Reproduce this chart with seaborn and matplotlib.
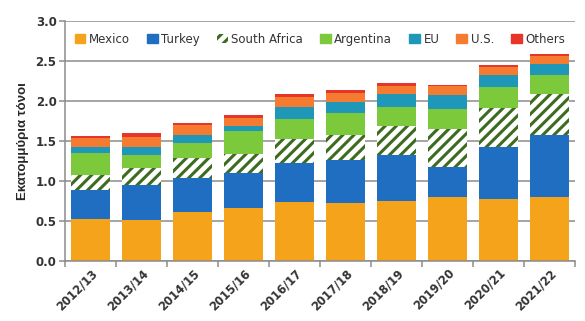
import matplotlib
matplotlib.use("Agg")
import matplotlib.pyplot as plt
from matplotlib.patches import Patch
from matplotlib.ticker import FixedLocator
import numpy as np
import pandas as pd
import seaborn as sns

years = ["2012/13", "2013/14", "2014/15", "2015/16", "2016/17",
         "2017/18", "2018/19", "2019/20", "2020/21", "2021/22"]
mexico = [0.52, 0.51, 0.61, 0.66, 0.74, 0.72, 0.75, 0.80, 0.78, 0.80]
turkey = [0.37, 0.435, 0.43, 0.435, 0.48, 0.54, 0.58, 0.38, 0.64, 0.775]
south_africa = [0.18, 0.215, 0.25, 0.245, 0.31, 0.315, 0.36, 0.47, 0.49, 0.515]
argentina = [0.28, 0.16, 0.18, 0.28, 0.25, 0.28, 0.23, 0.25, 0.26, 0.23]
eu = [0.07, 0.11, 0.105, 0.07, 0.15, 0.135, 0.17, 0.175, 0.155, 0.14]
us = [0.12, 0.12, 0.125, 0.10, 0.12, 0.105, 0.10, 0.105, 0.095, 0.10]
others = [0.02, 0.05, 0.03, 0.035, 0.04, 0.035, 0.03, 0.02, 0.03, 0.03]
yticks = [0.0, 0.5, 1.0, 1.5, 2.0, 2.5, 3.0]

series_names = ["Mexico", "Turkey", "South Africa", "Argentina", "EU", "U.S.", "Others"]
series_vals = [mexico, turkey, south_africa, argentina, eu, us, others]
colors = ["#F5A31A", "#1F6EC2", "#FFFFFF", "#7CC93B", "#1F97B9", "#F47B2F", "#E8352A"]
hatch_color = "#3D6B1F"
ylabel = "Εκατομμύρια τόνοι"

sns.set_theme(style="white")
plt.rcParams["font.family"] = ["DejaVu Sans"]
plt.rcParams["hatch.linewidth"] = 2.2
plt.rcParams["hatch.color"] = hatch_color

df = pd.DataFrame({"year": years})
for name, vals in zip(series_names, series_vals):
    df[name] = vals
cum = df[series_names].cumsum(axis=1)
cum["year"] = years

fig = plt.figure(figsize=(5.85, 3.21), dpi=100)
ax = fig.add_axes([0.111, 0.187, 0.872, 0.748])

# draw cumulative layers from top to bottom, each overlaying the previous
for name, col in reversed(list(zip(series_names, colors))):
    n_before = len(ax.patches)
    sns.barplot(data=cum, x="year", y=name, color=col, width=0.75,
                saturation=1, ax=ax, linewidth=0, edgecolor=col)
    if name == "South Africa":
        for p in ax.patches[n_before:]:
            p.set_facecolor("white")
            p.set_hatch("///")
            p.set_edgecolor(hatch_color)
            p.set_linewidth(0)

ax.set_ylim(0, 3.0)
ax.set_xlim(-0.5, len(years) - 0.5)
ax.set_yticks(yticks)
ax.set_yticklabels([f"{v:.1f}" for v in yticks])
ax.grid(axis="y", color="#8C8C8C", linewidth=1.1)
ax.set_axisbelow(True)
for s in ["top", "right"]:
    ax.spines[s].set_visible(False)
for s in ["left", "bottom"]:
    ax.spines[s].set_color("#8C8C8C")
    ax.spines[s].set_linewidth(1.1)

ax.set_xlabel("")
ax.set_ylabel(ylabel, fontsize=9.5, fontweight="bold", family=["Liberation Sans", "DejaVu Sans"], labelpad=5)
ax.tick_params(axis="y", direction="out", length=4, color="#8C8C8C", width=1.1,
               labelsize=8.5, pad=2, left=True)
for t in ax.get_yticklabels():
    t.set_fontweight("bold")
    t.set_color("#333333")

ax.xaxis.set_minor_locator(FixedLocator(np.arange(-0.5, len(years), 1.0)))
ax.tick_params(axis="x", which="minor", direction="out", length=4, color="#8C8C8C", width=1.1, bottom=True)
ax.tick_params(axis="x", which="major", length=0, labelsize=8.3, pad=4)
for t in ax.get_xticklabels():
    t.set_rotation(45)
    t.set_ha("right")
    t.set_rotation_mode("anchor")
    t.set_fontweight("bold")
    t.set_color("#333333")

handles = []
for name, col in zip(series_names, colors):
    if name == "South Africa":
        handles.append(Patch(facecolor="white", hatch="///", edgecolor=hatch_color, linewidth=0, label=name))
    else:
        handles.append(Patch(facecolor=col, edgecolor=col, label=name))
leg = ax.legend(handles=handles, loc="upper center", bbox_to_anchor=(0.5, 0.985), ncol=7,
                frameon=False, fontsize=8.5, handlelength=0.9, handleheight=0.8,
                handletextpad=0.3, columnspacing=1.45, borderaxespad=0.3)
for t in leg.get_texts():
    t.set_color("#333333")

fig.savefig("out.png", dpi=100)
